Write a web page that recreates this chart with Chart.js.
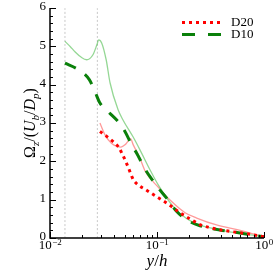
<!DOCTYPE html>
<html>
<head>
<meta charset="utf-8">
<script src="https://cdn.jsdelivr.net/npm/chart.js@4.4.1/dist/chart.umd.min.js"></script>
<style>
html, body { margin: 0; padding: 0; background: #fff; }
</style>
</head>
<body>
<canvas id="myChart" width="275" height="275"></canvas>
<script>
// datos (y/h , Omega_z/(U_b/D_p))
const d20X = [0.0293, 0.0339, 0.0391, 0.0435, 0.0468, 0.0502, 0.0539, 0.0571, 0.0601, 0.0669, 0.0773, 0.0893, 0.103, 0.119, 0.137, 0.158, 0.203, 0.252, 0.312, 0.488, 0.66, 1.0]
const d20Y = [2.78, 2.65, 2.51, 2.38, 2.22, 2.04, 1.84, 1.66, 1.52, 1.38, 1.27, 1.16, 1.05, 0.94, 0.82, 0.69, 0.50, 0.35, 0.27, 0.17, 0.12, 0.03]

const d10X = [0.0138, 0.0184, 0.0233, 0.0263, 0.0293, 0.0348, 0.0444, 0.0502, 0.058, 0.0646, 0.0773, 0.086, 0.1067, 0.123, 0.153, 0.19, 0.252, 0.388, 0.597, 1.0]
const d10Y = [4.56, 4.39, 4.13, 3.82, 3.52, 3.30, 3.00, 2.78, 2.43, 2.21, 1.80, 1.60, 1.25, 1.04, 0.69, 0.47, 0.32, 0.21, 0.13, 0.03]

// curvas finas sin leyenda
const verdeX = [0.0138, 0.0155, 0.0171, 0.0195, 0.0220, 0.0252, 0.0275, 0.0285, 0.0304, 0.0335, 0.0364, 0.0432, 0.0481, 0.0597, 0.0693, 0.086, 0.103, 0.142, 0.19, 0.25, 0.4, 0.6, 1.0]
const verdeY = [5.13, 4.99, 4.86, 4.72, 4.65, 4.78, 5.05, 5.17, 5.09, 4.65, 4.05, 3.35, 3.08, 2.64, 2.30, 1.78, 1.38, 0.82, 0.50, 0.34, 0.20, 0.12, 0.03]

const rojoX = [0.0293, 0.0327, 0.0375, 0.0420, 0.0460, 0.0502, 0.0545, 0.0565, 0.0600, 0.0693, 0.0773, 0.103, 0.137, 0.183, 0.235, 0.36, 0.6, 1.0]
const rojoY = [3.00, 2.69, 2.47, 2.39, 2.37, 2.43, 2.55, 2.59, 2.43, 2.08, 1.75, 1.32, 0.95, 0.66, 0.52, 0.34, 0.20, 0.03]

const lineasV = [0.0138, 0.0277]

const ticksX = [0.01, 0.1, 1]
const expX = ['\u22122', '\u22121', '0']
const ticksY = [0, 1, 2, 3, 4, 5, 6]

const serif = '"Liberation Serif", "DejaVu Serif", serif'

let puntos = function (xs, ys) {
    return xs.map((x, i) => ({ x: x, y: ys[i] }))
}

let datasets = [
    { label: 'D20', data: puntos(d20X, d20Y), borderColor: '#ff0000', borderWidth: 3, borderDash: [3, 4] },
    { label: 'D10', data: puntos(d10X, d10Y), borderColor: '#0a800a', borderWidth: 3, borderDash: [12, 11] },
    { label: 'fino verde', data: puntos(verdeX, verdeY), borderColor: 'rgba(0,160,0,0.42)', borderWidth: 1.3 },
    { label: 'fino rojo', data: puntos(rojoX, rojoY), borderColor: 'rgba(255,0,0,0.4)', borderWidth: 1.3 }
]
lineasV.forEach(v => {
    datasets.push({ label: 'v', data: [{ x: v, y: 0 }, { x: v, y: 6 }], borderColor: '#c8c8c8', borderWidth: 1, borderDash: [2, 2] })
})
datasets.forEach(d => {
    d.pointRadius = 0
    d.fill = false
    d.cubicInterpolationMode = 'monotone'
})

const leyenda = [0, 1]

const ejes = {
    id: 'ejes',
    afterDatasetsDraw(chart) {
        const ctx = chart.ctx
        const a = chart.chartArea
        const sx = chart.scales.x
        const sy = chart.scales.y
        ctx.save()
        ctx.strokeStyle = '#000'
        ctx.fillStyle = '#000'
        ctx.lineWidth = 1.5
        ctx.beginPath()
        ctx.moveTo(a.left, a.top)
        ctx.lineTo(a.left, a.bottom)
        ctx.lineTo(a.right, a.bottom)
        ctx.stroke()

        // marcas del eje y
        ctx.lineWidth = 1
        for (let i = 0; i <= 30; i++) {
            const py = Math.round(sy.getPixelForValue(i * 0.2)) + 0.5
            const largo = i % 5 == 0 ? 6 : 3
            ctx.beginPath()
            ctx.moveTo(a.left, py)
            ctx.lineTo(a.left + largo, py)
            ctx.stroke()
        }
        // marcas del eje x
        for (let e = -2; e < 0; e++) {
            for (let k = 1; k <= 9; k++) {
                const px = Math.round(sx.getPixelForValue(k * Math.pow(10, e))) + 0.5
                const largo = k == 1 ? 6 : 3
                ctx.beginPath()
                ctx.moveTo(px, a.bottom)
                ctx.lineTo(px, a.bottom - largo)
                ctx.stroke()
            }
        }
        const pxFin = Math.round(sx.getPixelForValue(1)) + 0.5
        ctx.beginPath()
        ctx.moveTo(pxFin, a.bottom)
        ctx.lineTo(pxFin, a.bottom - 6)
        ctx.stroke()

        // etiquetas y
        ctx.font = '13px ' + serif
        ctx.textAlign = 'right'
        ctx.textBaseline = 'middle'
        ticksY.forEach(v => {
            ctx.fillText(String(v), a.left - 4, sy.getPixelForValue(v) - 1)
        })
        // etiquetas x con exponente
        ctx.textAlign = 'left'
        ctx.textBaseline = 'alphabetic'
        ticksX.forEach((v, i) => {
            ctx.font = '13px ' + serif
            const w1 = ctx.measureText('10').width
            ctx.font = '9px ' + serif
            const w2 = ctx.measureText(expX[i]).width
            const x0 = sx.getPixelForValue(v) - (w1 + w2) / 2
            ctx.font = '13px ' + serif
            ctx.fillText('10', x0, a.bottom + 11)
            ctx.font = '9px ' + serif
            ctx.fillText(expX[i], x0 + w1 + 0.5, a.bottom + 7)
        })

        // titulo x
        const trozosX = [['y', true, false], ['/', false, false], ['h', true, false]]
        dibujarTrozos(ctx, trozosX, 17, (a.left + a.right) / 2, 266)

        // titulo y
        ctx.save()
        ctx.translate(35, (a.top + a.bottom) / 2)
        ctx.rotate(-Math.PI / 2)
        const trozosY = [['\u03A9', false, false], ['z', true, true], ['/(', false, false], ['U', true, false], ['b', true, true],
            ['/', false, false], ['D', true, false], ['p', true, true], [')', false, false]]
        dibujarTrozos(ctx, trozosY, 16, 0, 0)
        ctx.restore()

        // leyenda
        leyenda.forEach((idx, j) => {
            const d = chart.data.datasets[idx]
            const ly = 22.5 + j * 12
            ctx.save()
            ctx.strokeStyle = d.borderColor
            ctx.lineWidth = d.borderWidth
            ctx.setLineDash(idx == 1 ? [13, 13] : d.borderDash)
            ctx.beginPath()
            ctx.moveTo(182, ly)
            ctx.lineTo(221, ly)
            ctx.stroke()
            ctx.restore()
            ctx.font = '13px ' + serif
            ctx.textAlign = 'left'
            ctx.textBaseline = 'middle'
            ctx.fillText(d.label, 231, ly + 0.5)
        })
        ctx.restore()
    }
}

function dibujarTrozos(ctx, trozos, tam, cx, base) {
    const fuente = (t) => (t[1] ? 'italic ' : '') + (t[2] ? Math.round(tam * 0.7) : tam) + 'px ' + serif
    let total = 0
    trozos.forEach(t => { ctx.font = fuente(t); total += ctx.measureText(t[0]).width })
    let x = cx - total / 2
    ctx.textAlign = 'left'
    ctx.textBaseline = 'alphabetic'
    trozos.forEach(t => {
        ctx.font = fuente(t)
        ctx.fillText(t[0], x, base + (t[2] ? 4 : 0))
        x += ctx.measureText(t[0]).width
    })
}

const contenedor = document.getElementById('myChart').getContext('2d')
window.myChart = new Chart(contenedor, {
    type: 'line',
    data: { datasets: datasets },
    options: {
        responsive: false,
        animation: false,
        events: [],
        layout: { padding: { left: 0, right: 11, top: 8, bottom: 0 } },
        plugins: { legend: { display: false }, tooltip: { enabled: false } },
        scales: {
            x: {
                type: 'logarithmic', min: 0.01, max: 1,
                grid: { display: false }, border: { display: false }, ticks: { display: false },
                afterFit: (s) => { s.height = 37 }
            },
            y: {
                type: 'linear', min: 0, max: 6,
                grid: { display: false }, border: { display: false }, ticks: { display: false },
                afterFit: (s) => { s.width = 50 }
            }
        }
    },
    plugins: [ejes]
})
</script>
</body>
</html>
